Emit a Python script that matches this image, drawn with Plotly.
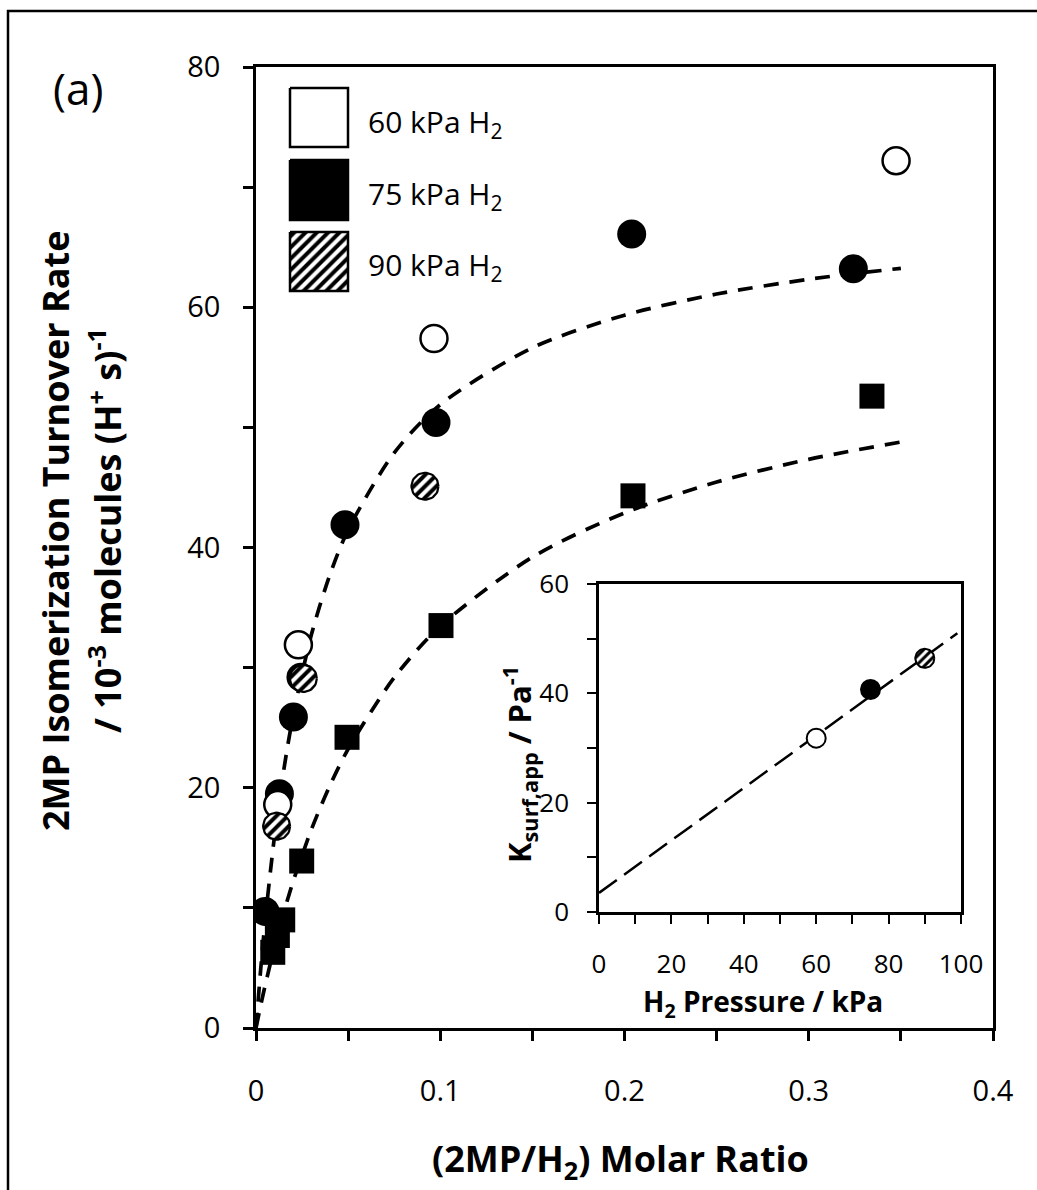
import numpy as np
import plotly.graph_objects as go

# ---------------- data ----------------
ratio_60 = [0.0118, 0.0230, 0.0966, 0.3474]
rate_60 = [18.6, 31.9, 57.4, 72.2]

ratio_75 = [0.0049, 0.0127, 0.0203, 0.0244, 0.0483, 0.0977, 0.2039, 0.3242]
rate_75 = [9.7, 19.5, 25.9, 29.2, 41.9, 50.4, 66.1, 63.2]

ratio_90 = [0.0112, 0.0257, 0.0917]
rate_90 = [16.8, 29.1, 45.1]

ratio_sq = [0.0091, 0.0116, 0.0145, 0.0248, 0.0494, 0.1004, 0.2046, 0.3343]
rate_sq = [6.3, 7.7, 9.0, 13.9, 24.2, 33.5, 44.3, 52.6]

fit_x = [0, 0.0025, 0.005, 0.01, 0.015, 0.02, 0.03, 0.04, 0.05, 0.075, 0.1,
         0.15, 0.2, 0.25, 0.3, 0.35]
fit_upper = [0, 4.80, 8.99, 15.91, 21.41, 25.88, 32.71, 37.68, 41.47, 47.88,
             51.89, 56.63, 59.34, 61.10, 62.33, 63.24]
fit_lower = [0, 1.84, 3.57, 6.74, 9.57, 12.12, 16.50, 20.14, 23.22, 29.17,
             33.45, 39.20, 42.88, 45.45, 47.34, 48.78]

p_h2 = [60, 75, 90]
k_surf = [31.8, 40.7, 46.4]
inset_fit_p = [0, 99]
inset_fit_k = [3.5, 51.0]

x_ticks = [0, 0.1, 0.2, 0.3, 0.4]
x_labels = ["0", "0.1", "0.2", "0.3", "0.4"]
y_ticks = [0, 20, 40, 60, 80]
y_labels = ["0", "20", "40", "60", "80"]
ix_ticks = [0, 20, 40, 60, 80, 100]
iy_ticks = [0, 20, 40, 60]

legend_names = ["60 kPa H<sub>2</sub>", "75 kPa H<sub>2</sub>", "90 kPa H<sub>2</sub>"]

# ---------------- geometry ----------------
W, H = 1037, 1190
L, R, T, B = 256, 993, 67, 1028
XR = [0, 0.4]
YR = [0, 80]
# inset (pixels)
IL, IR, IT, IB = 599, 961, 584, 912
IXR = [0, 100]
IYR = [0, 60]

def px_x(p):
    return (p - L) / (R - L)

def px_y(p):
    return (B - p) / (B - T)

FONT = "Open Sans"

def circles(xs, ys, r_px, xr, yr, wpx, hpx, n=48):
    sx = wpx / (xr[1] - xr[0])
    sy = hpx / (yr[1] - yr[0])
    t = np.linspace(0, 2 * np.pi, n)
    ox, oy = [], []
    for cx, cy in zip(xs, ys):
        ox += list(cx + r_px / sx * np.cos(t)) + [None]
        oy += list(cy + r_px / sy * np.sin(t)) + [None]
    return ox, oy

HATCH = dict(shape="/", fgcolor="#000000", bgcolor="#ffffff", fgopacity=1,
             size=8, solidity=0.5, fillmode="replace")

fig = go.Figure()

dash_main = "15px,11px"
# fitted curves
for fy in (fit_lower, fit_upper):
    fig.add_trace(go.Scatter(x=fit_x, y=fy, mode="lines",
                             line=dict(color="black", width=3.7, dash=dash_main,
                                       shape="spline", smoothing=0.8),
                             hoverinfo="skip", showlegend=False))
# squares
fig.add_trace(go.Scatter(x=ratio_sq, y=rate_sq, mode="markers",
                         marker=dict(symbol="square", size=25, color="black", line=dict(width=0)),
                         showlegend=False))
# 75 kPa
fig.add_trace(go.Scatter(x=ratio_75, y=rate_75, mode="markers",
                         marker=dict(symbol="circle", size=29, color="black", line=dict(width=0)),
                         showlegend=False))
# 60 kPa
fig.add_trace(go.Scatter(x=ratio_60, y=rate_60, mode="markers",
                         marker=dict(symbol="circle", size=27, color="white",
                                     line=dict(width=2.5, color="black")),
                         showlegend=False))
# 90 kPa hatched
hx, hy = circles(ratio_90, rate_90, 13.5, XR, YR, R - L, B - T)
fig.add_trace(go.Scatter(x=hx, y=hy, mode="lines", fill="toself", fillcolor="white",
                         line=dict(color="black", width=2.2),
                         fillpattern=HATCH, hoverinfo="skip", showlegend=False))

# ---------------- inset ----------------
fig.add_trace(go.Scatter(x=inset_fit_p, y=inset_fit_k, mode="lines", xaxis="x2", yaxis="y2",
                         line=dict(color="black", width=2.5, dash="22px,9px"),
                         hoverinfo="skip", showlegend=False))
fig.add_trace(go.Scatter(x=[p_h2[0]], y=[k_surf[0]], mode="markers", xaxis="x2", yaxis="y2",
                         marker=dict(size=19, color="white", line=dict(width=2, color="black")),
                         showlegend=False))
fig.add_trace(go.Scatter(x=[p_h2[1]], y=[k_surf[1]], mode="markers", xaxis="x2", yaxis="y2",
                         marker=dict(size=21, color="black", line=dict(width=0)),
                         showlegend=False))
ihx, ihy = circles([p_h2[2]], [k_surf[2]], 9.5, IXR, IYR, IR - IL, IB - IT)
fig.add_trace(go.Scatter(x=ihx, y=ihy, mode="lines", fill="toself", fillcolor="white",
                         xaxis="x2", yaxis="y2", line=dict(color="black", width=2),
                         fillpattern=dict(HATCH, size=6), hoverinfo="skip", showlegend=False))

# ---------------- legend swatches (pixel overlay axes) ----------------
sw_x0, sw_x1 = 290, 348
sw_rows = [(88, 147), (160, 220), (232, 291)]
sw_fill = ["white", "black", None]
for (y0, y1), fc in zip(sw_rows, sw_fill):
    kw = dict(x=[sw_x0, sw_x1, sw_x1, sw_x0, sw_x0], y=[y0, y0, y1, y1, y0],
              mode="lines", fill="toself", xaxis="x3", yaxis="y3",
              line=dict(color="black", width=2.5), hoverinfo="skip", showlegend=False)
    if fc is None:
        kw["fillpattern"] = HATCH
        kw["fillcolor"] = "white"
    else:
        kw["fillcolor"] = fc
    fig.add_trace(go.Scatter(**kw))

axis_common = dict(showline=True, mirror=True, linecolor="black", showgrid=False,
                   zeroline=False, ticks="outside", tickcolor="black")

fig.update_layout(
    width=W, height=H,
    margin=dict(l=L, r=W - R, t=T, b=H - B),
    paper_bgcolor="white", plot_bgcolor="white",
    font=dict(family=FONT, color="black"),
    showlegend=False,
    xaxis=dict(domain=[0, 1], range=XR, tickvals=x_ticks, ticktext=x_labels,
               linewidth=2.5, ticklen=10, tickwidth=2.5,
               minor=dict(dtick=0.05, ticks="outside", ticklen=10, tickwidth=2.5, tickcolor="black"),
               tickfont=dict(size=29, family=FONT), ticklabelstandoff=25, **axis_common),
    yaxis=dict(domain=[0, 1], range=YR, tickvals=y_ticks, ticktext=y_labels,
               linewidth=2.5, ticklen=10, tickwidth=2.5,
               minor=dict(dtick=10, ticks="outside", ticklen=10, tickwidth=2.5, tickcolor="black"),
               tickfont=dict(size=29, family=FONT), ticklabelstandoff=17, **axis_common),
    xaxis2=dict(domain=[px_x(IL), px_x(IR)], anchor="y2", range=IXR, tickvals=ix_ticks,
                linewidth=2.5, ticklen=9, tickwidth=2,
                minor=dict(dtick=10, ticks="outside", ticklen=9, tickwidth=2, tickcolor="black"),
                tickfont=dict(size=26, family=FONT), ticklabelstandoff=18, **axis_common),
    yaxis2=dict(domain=[px_y(IB), px_y(IT)], anchor="x2", range=IYR, tickvals=iy_ticks,
                linewidth=2.5, ticklen=9, tickwidth=2,
                minor=dict(dtick=10, ticks="outside", ticklen=9, tickwidth=2, tickcolor="black"),
                tickfont=dict(size=26, family=FONT), ticklabelstandoff=13, **axis_common),
    xaxis3=dict(overlaying="x", anchor="y3", range=[L, R], visible=False, fixedrange=True),
    yaxis3=dict(overlaying="y", anchor="x3", range=[B, T], visible=False, fixedrange=True),
)

def note(text, x, y, size, angle=0, xanchor="center", bold=False):
    if bold:
        text = "<b>" + text + "</b>"
    return dict(text=text, x=px_x(x), y=px_y(y), xref="paper", yref="paper",
                xanchor=xanchor, yanchor="middle", showarrow=False, textangle=angle,
                font=dict(size=size, family=FONT, color="black"))

ann = [
    note("(a)", 78, 88, 44),
    note("2MP Isomerization Turnover Rate", 55, 531, 36, angle=-90, bold=True),
    note("/ 10<sup>-3</sup> molecules (H<sup>+</sup> s)<sup>-1</sup>", 105, 531, 36, angle=-90, bold=True),
    note("(2MP/H<sub>2</sub>) Molar Ratio", 620, 1160, 36, bold=True),
    note("H<sub>2</sub> Pressure / kPa", 763, 1003, 28, bold=True),
    note("K<sub>surf,app</sub> / Pa<sup>-1</sup>", 519, 765, 31, angle=-90, bold=True),
]
for name, (y0, y1) in zip(legend_names, sw_rows):
    ann.append(note(name, 366, (y0 + y1) / 2 + 5, 30, xanchor="left"))
fig.update_layout(annotations=ann)

fig.add_shape(type="rect", xref="paper", yref="paper",
              x0=px_x(8), x1=px_x(1045), y0=px_y(1205), y1=px_y(11),
              line=dict(color="black", width=2.5), fillcolor="rgba(0,0,0,0)", layer="below")

fig.write_html("out.html")
